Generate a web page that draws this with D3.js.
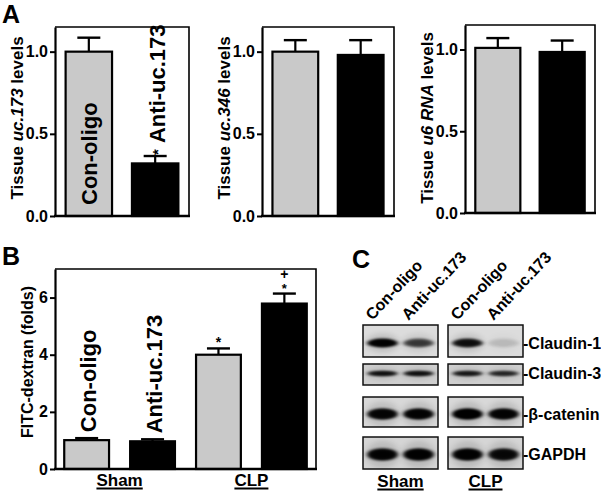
<!DOCTYPE html>
<html><head><meta charset="utf-8">
<script src="https://cdn.jsdelivr.net/npm/d3@7"></script>
<style>
body{margin:0;background:#fff}
svg{display:block}
text{font-family:"Liberation Sans",Arial,Helvetica,sans-serif;font-weight:bold;fill:#000}
</style>
</head><body>
<svg id="chart" width="601" height="492"></svg>
<script>
// ---------------- DATA ----------------
const groupsA = ["Con-oligo", "Anti-uc.173"];
const uc173Means = [1.00, 0.32];
const uc173Errors = [0.085, 0.045];
const uc346Means = [1.00, 0.98];
const uc346Errors = [0.07, 0.09];
const u6Means = [1.01, 0.985];
const u6Errors = [0.06, 0.07];
const ticksA = [0.0, 0.5, 1.0];

const categoriesB = ["Sham Con-oligo", "Sham Anti-uc.173", "CLP Con-oligo", "CLP Anti-uc.173"];
const fitcMeans = [1.01, 0.97, 4.00, 5.79];
const fitcErrors = [0.07, 0.07, 0.22, 0.35];
const ticksB = [0, 2, 4, 6];
const groupLabels = ["Sham", "CLP"];

const blotLanes = ["Con-oligo", "Anti-uc.173"];
const blotProteins = ["Claudin-1", "Claudin-3", "β-catenin", "GAPDH"];
const shamBandIntensity = [[0.97, 0.62], [0.82, 0.82], [0.93, 0.95], [0.95, 0.97]];
const clpBandIntensity = [[0.85, 0.12], [0.78, 0.7], [1.0, 0.94], [0.97, 0.9]];

// ---------------- DRAW ----------------
const svg = d3.select("#chart");
const GRAY = "#c9c9c9";
const fills = [GRAY, "#000"];

function yLabel(g, x, y, parts, size) {
  const t = g.append("text")
    .attr("transform", `translate(${x},${y}) rotate(-90)`)
    .attr("text-anchor", "middle")
    .style("font-size", size + "px");
  parts.forEach(p => {
    const ts = t.append("tspan").text(p.t);
    if (p.i) ts.style("font-style", "italic");
  });
  return t;
}

function underlined(g, cx, y, txt, size) {
  const t = g.append("text").attr("x", cx).attr("y", y).attr("text-anchor", "middle")
    .style("font-size", size + "px").text(txt);
  const bb = t.node().getBBox();
  g.append("line").attr("x1", bb.x).attr("x2", bb.x + bb.width)
    .attr("y1", y + 2.5).attr("y2", y + 2.5).attr("stroke", "#000").attr("stroke-width", 1.8);
}

function barChart(opt) {
  const g = svg.append("g");
  const x = d3.scaleBand().domain(opt.cats).range([opt.x0, opt.x1])
    .paddingInner(opt.pi).paddingOuter(opt.po);
  const y = d3.scaleLinear().domain([0, opt.ymax]).range([opt.y0, opt.y1]);

  g.append("path")
    .attr("d", `M${opt.x0},${opt.y1}H${opt.x1}V${opt.y0}`)
    .attr("fill", "none").attr("stroke", "#000").attr("stroke-width", 1.6);

  opt.cats.forEach((c, i) => {
    const cx = x(c) + x.bandwidth() / 2;
    const yt = y(opt.means[i] + opt.errs[i]);
    g.append("line").attr("x1", cx).attr("x2", cx)
      .attr("y1", y(opt.means[i])).attr("y2", yt)
      .attr("stroke", "#000").attr("stroke-width", 2.2);
    g.append("line").attr("x1", cx - 11.5).attr("x2", cx + 11.5)
      .attr("y1", yt).attr("y2", yt)
      .attr("stroke", "#000").attr("stroke-width", 2.4);
  });
  g.selectAll("rect.bar").data(opt.cats).join("rect")
    .attr("x", d => x(d)).attr("width", x.bandwidth())
    .attr("y", (d, i) => y(opt.means[i]))
    .attr("height", (d, i) => y(0) - y(opt.means[i]))
    .attr("fill", (d, i) => opt.fills[i])
    .attr("stroke", "#000").attr("stroke-width", 2.2);

  const ax = g.append("g").attr("transform", `translate(${opt.x0},0)`)
    .call(d3.axisLeft(y).tickValues(opt.ticks).tickFormat(opt.fmt)
      .tickSize(5).tickSizeOuter(0).tickPadding(2));
  ax.select(".domain").attr("stroke-width", 2.2);
  ax.selectAll(".tick line").attr("stroke-width", 2);
  ax.selectAll(".tick text").style("font-size", opt.tickSize + "px")
    .style("font-family", '"Liberation Sans",Arial,sans-serif').style("font-weight", "bold");
  g.append("line").attr("x1", opt.x0 - 1).attr("x2", opt.x1 + 1)
    .attr("y1", y(0)).attr("y2", y(0))
    .attr("stroke", "#000").attr("stroke-width", 2.4);
  return { g, x, y };
}

// ---- Panel A ----
const aCharts = [
  { x0: 55, x1: 189, y0: 216, y1: 27, means: uc173Means, errs: uc173Errors, lab: [{t:"Tissue "},{t:"uc.173",i:1},{t:" levels"}] },
  { x0: 262, x1: 394, y0: 216, y1: 27, means: uc346Means, errs: uc346Errors, lab: [{t:"Tissue "},{t:"uc.346",i:1},{t:" levels"}] },
  { x0: 465, x1: 595, y0: 213, y1: 25, means: u6Means, errs: u6Errors, lab: [{t:"Tissue "},{t:"u6 RNA",i:1},{t:" levels"}] }
];
const aRes = aCharts.map(c => {
  const r = barChart({ ...c, cats: groupsA, ymax: 1.15, ticks: ticksA, fmt: d3.format(".1f"),
    pi: 0.3, po: 0.16, fills, tickSize: 16 });
  yLabel(r.g, c.x0 - 32, 118, c.lab, 17);
  return r;
});
{
  const { g, x, y } = aRes[0];
  const c0 = x(groupsA[0]) + x.bandwidth() / 2;
  g.append("text").attr("transform", `translate(${c0 + 8},${y(0) - 11}) rotate(-90)`)
    .style("font-size", "22px").text(groupsA[0]);
  const c1 = x(groupsA[1]) + x.bandwidth() / 2;
  const top = y(uc173Means[1] + uc173Errors[1]);
  g.append("text").attr("transform", `translate(${c1 + 10},${top - 13}) rotate(-90)`)
    .style("font-size", "22px").text(groupsA[1]);
  g.append("text").attr("transform", `translate(${c1 + 8},${top - 1}) rotate(-90)`)
    .style("font-size", "15px").text("*");
}

// ---- Panel B ----
{
  const r = barChart({ x0: 55, x1: 316, y0: 469, y1: 269, cats: categoriesB, means: fitcMeans, errs: fitcErrors,
    ymax: 7, ticks: ticksB, fmt: d3.format("d"), pi: 0.32, po: 0.14, fills: [GRAY, "#000", GRAY, "#000"], tickSize: 16 });
  const { g, x, y } = r;
  yLabel(g, 33, 362, [{ t: "FITC-dextran (folds)" }], 16);
  const names = ["Con-oligo", "Anti-uc.173"];
  [0, 1].forEach(i => {
    const cx = x(categoriesB[i]) + x.bandwidth() / 2;
    const top = y(fitcMeans[i] + fitcErrors[i]);
    g.append("text").attr("transform", `translate(${cx + 9},${top - 6}) rotate(-90)`)
      .style("font-size", "22px").text(names[i]);
  });
  const c2 = x(categoriesB[2]) + x.bandwidth() / 2;
  const c3 = x(categoriesB[3]) + x.bandwidth() / 2;
  g.append("text").attr("x", c2).attr("y", y(fitcMeans[2] + fitcErrors[2]) - 1)
    .attr("text-anchor", "middle").style("font-size", "14px").text("*");
  g.append("text").attr("x", c3).attr("y", y(fitcMeans[3] + fitcErrors[3]) - 1)
    .attr("text-anchor", "middle").style("font-size", "13px").text("*");
  g.append("text").attr("x", c3).attr("y", y(fitcMeans[3] + fitcErrors[3]) - 15)
    .attr("text-anchor", "middle").style("font-size", "14px").text("+");
  groupLabels.forEach((lab, gi) => {
    const a = x(categoriesB[gi * 2]), b = x(categoriesB[gi * 2 + 1]) + x.bandwidth();
    underlined(g, (a + b) / 2, 486, lab, 17);
  });
}

// ---- Panel C (western blot) ----
{
  const g = svg.append("g");
  const defs = svg.append("defs");
  defs.append("filter").attr("id", "blur").attr("x", "-30%").attr("y", "-100%")
    .attr("width", "160%").attr("height", "300%")
    .append("feGaussianBlur").attr("stdDeviation", "2 1.1");
  defs.append("filter").attr("id", "blur2").attr("x", "-30%").attr("y", "-100%")
    .attr("width", "160%").attr("height", "300%")
    .append("feGaussianBlur").attr("stdDeviation", "3 2.5");

  const boxes = [
    { x: 363, w: 75, data: shamBandIntensity, label: groupLabels[0] },
    { x: 448, w: 75, data: clpBandIntensity, label: groupLabels[1] }
  ];
  const rowLayout = [
    { y: 325, h: 32, by: 18, ry: 4.4, bg: "#dcdcdc" },
    { y: 364, h: 21, by: 9.5, ry: 2.8, bg: "#cfcfcf" },
    { y: 397, h: 30, by: 17, ry: 5.8, bg: "#d8d8d8" },
    { y: 437, h: 32, by: 17.5, ry: 6.2, bg: "#d5d5d5" }
  ];
  boxes.forEach(bx => {
    const lx = d3.scaleBand().domain(blotLanes).range([bx.x, bx.x + bx.w]).padding(0.08);
    blotProteins.forEach((p, ri) => {
      const L = rowLayout[ri];
      g.append("rect").attr("x", bx.x).attr("y", L.y).attr("width", bx.w).attr("height", L.h)
        .attr("fill", L.bg);
      const clip = "clip" + bx.x + "_" + ri;
      defs.append("clipPath").attr("id", clip).append("rect")
        .attr("x", bx.x).attr("y", L.y).attr("width", bx.w).attr("height", L.h);
      const bg = g.append("g").attr("clip-path", `url(#${clip})`);
      blotLanes.forEach((ln, li) => {
        const v = bx.data[ri][li];
        const cx = lx(ln) + lx.bandwidth() / 2;
        bg.append("ellipse").attr("cx", cx).attr("cy", L.y + L.by)
          .attr("rx", lx.bandwidth() * 0.5).attr("ry", L.ry * 2.2)
          .attr("fill", "#000").attr("opacity", v * 0.12).attr("filter", "url(#blur2)");
        bg.append("ellipse").attr("cx", cx).attr("cy", L.y + L.by)
          .attr("rx", lx.bandwidth() * 0.46).attr("ry", L.ry)
          .attr("fill", "#000").attr("opacity", v).attr("filter", "url(#blur)");
        bg.append("ellipse").attr("cx", cx).attr("cy", L.y + L.by)
          .attr("rx", lx.bandwidth() * 0.34).attr("ry", L.ry * 0.65)
          .attr("fill", "#000").attr("opacity", v * v * 0.8).attr("filter", "url(#blur)");
      });
      g.append("rect").attr("x", bx.x).attr("y", L.y).attr("width", bx.w).attr("height", L.h)
        .attr("fill", "none").attr("stroke", "#111").attr("stroke-width", 1.5);
    });
    blotLanes.forEach(ln => {
      const cx = lx(ln) + lx.bandwidth() / 2;
      g.append("text").attr("transform", `translate(${cx - 10},321) rotate(-47)`)
        .style("font-size", "16px").text(ln);
    });
    underlined(g, bx.x + bx.w / 2, 487, bx.label, 17);
  });
  blotProteins.forEach((p, ri) => {
    const L = rowLayout[ri];
    g.append("text").attr("x", 523).attr("y", L.y + L.by + 5.5)
      .style("font-size", "16px").text("-" + p);
  });
}

// panel letters
svg.append("text").attr("x", 2).attr("y", 23).style("font-size", "25px").text("A");
svg.append("text").attr("x", 2).attr("y", 265).style("font-size", "25px").text("B");
svg.append("text").attr("x", 352).attr("y", 268).style("font-size", "25px").text("C");
</script>
</body></html>
